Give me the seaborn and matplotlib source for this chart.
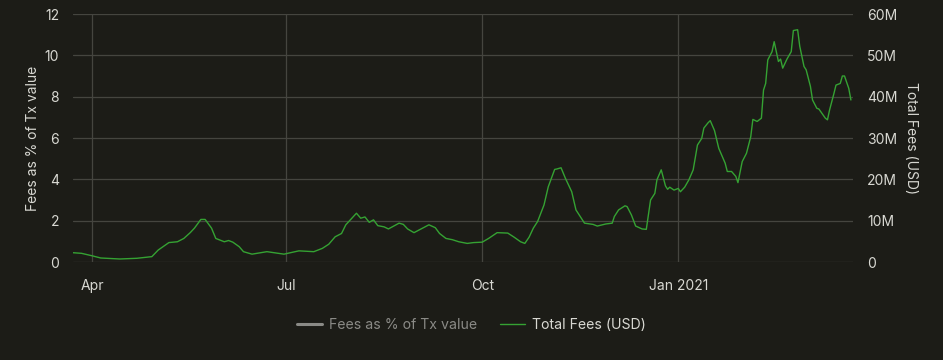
import pandas as pd
import numpy as np
import matplotlib
matplotlib.use("Agg")
import matplotlib.pyplot as plt
from matplotlib.lines import Line2D
from matplotlib.ticker import FuncFormatter
import seaborn as sns

# Total fees (millions USD)
dates = [
    "2020-03-23", "2020-03-27", "2020-04-01", "2020-04-05", "2020-04-14", "2020-04-22",
    "2020-04-29", "2020-05-02", "2020-05-07", "2020-05-11", "2020-05-14", "2020-05-17",
    "2020-05-19", "2020-05-22", "2020-05-24", "2020-05-27", "2020-05-29", "2020-06-02",
    "2020-06-04", "2020-06-06", "2020-06-09", "2020-06-11", "2020-06-15", "2020-06-22",
    "2020-06-30", "2020-07-07", "2020-07-14", "2020-07-18", "2020-07-21", "2020-07-24",
    "2020-07-27", "2020-07-29", "2020-08-01", "2020-08-03", "2020-08-05", "2020-08-07",
    "2020-08-09", "2020-08-11", "2020-08-13", "2020-08-16", "2020-08-18", "2020-08-23",
    "2020-08-25", "2020-08-27", "2020-08-30", "2020-09-03", "2020-09-06", "2020-09-09",
    "2020-09-11", "2020-09-14", "2020-09-17", "2020-09-20", "2020-09-24", "2020-09-27",
    "2020-10-01", "2020-10-04", "2020-10-08", "2020-10-13", "2020-10-16", "2020-10-19",
    "2020-10-21", "2020-10-23", "2020-10-25", "2020-10-27", "2020-10-30", "2020-11-01",
    "2020-11-04", "2020-11-05", "2020-11-07", "2020-11-09", "2020-11-12", "2020-11-14",
    "2020-11-18", "2020-11-22", "2020-11-24", "2020-11-28", "2020-12-01", "2020-12-02",
    "2020-12-04", "2020-12-07", "2020-12-08", "2020-12-10", "2020-12-12", "2020-12-15",
    "2020-12-17", "2020-12-19", "2020-12-21", "2020-12-22", "2020-12-24", "2020-12-26",
    "2020-12-27", "2020-12-28", "2020-12-30", "2021-01-01", "2021-01-02", "2021-01-04",
    "2021-01-06", "2021-01-08", "2021-01-10", "2021-01-12", "2021-01-13", "2021-01-15",
    "2021-01-16", "2021-01-18", "2021-01-20", "2021-01-23", "2021-01-24", "2021-01-26",
    "2021-01-28", "2021-01-29", "2021-01-31", "2021-02-02", "2021-02-04", "2021-02-05",
    "2021-02-07", "2021-02-09", "2021-02-10", "2021-02-11", "2021-02-12", "2021-02-14",
    "2021-02-15", "2021-02-17", "2021-02-18", "2021-02-19", "2021-02-21", "2021-02-23",
    "2021-02-24", "2021-02-26", "2021-02-27", "2021-03-01", "2021-03-02", "2021-03-04",
    "2021-03-05", "2021-03-07", "2021-03-08", "2021-03-11", "2021-03-12", "2021-03-13",
    "2021-03-15", "2021-03-16", "2021-03-18", "2021-03-19", "2021-03-20", "2021-03-22",
    "2021-03-23",
]
total_fees_m = [
    2.25, 2.1, 1.5, 0.97, 0.73, 0.9,
    1.3, 2.9, 4.7, 4.9, 5.7, 7.1,
    8.2, 10.3, 10.3, 8.2, 5.7, 4.9,
    5.2, 4.8, 3.7, 2.5, 1.9, 2.5,
    1.9, 2.7, 2.5, 3.3, 4.3, 6.1,
    6.9, 9.0, 10.7, 11.8, 10.6, 10.9,
    9.6, 10.2, 8.8, 8.5, 8.0, 9.4,
    9.1, 8.0, 7.1, 8.2, 9.0, 8.3,
    6.9, 5.7, 5.4, 4.9, 4.5, 4.7,
    4.8, 5.7, 7.1, 7.0, 6.0, 4.9,
    4.5, 6.0, 8.2, 9.8, 13.8, 18.2,
    22.4, 22.5, 22.8, 20.3, 17.0, 12.6,
    9.4, 9.1, 8.7, 9.2, 9.4, 11.0,
    12.6, 13.6, 13.4, 11.4, 8.7, 8.0,
    7.9, 15.0, 16.6, 19.9, 22.3, 18.4,
    17.6, 18.1, 17.4, 17.8, 17.0, 18.1,
    19.9, 22.3, 28.3, 29.9, 32.4, 33.7,
    34.2, 31.8, 27.5, 23.9, 21.9, 21.9,
    20.7, 19.2, 24.3, 26.3, 30.3, 34.5,
    34.0, 34.8, 41.6, 43.2, 48.9, 50.9,
    53.3, 48.5, 49.1, 46.9, 49.1, 50.9,
    56.0, 56.2, 52.2, 47.3, 46.5, 42.5,
    39.2, 37.2, 37.0, 34.8, 34.4, 36.8,
    40.7, 42.8, 43.2, 45.0, 45.0, 42.0,
    39.2,
]

left_ticks = [0, 2, 4, 6, 8, 10, 12]
right_ticks = [0, 10e6, 20e6, 30e6, 40e6, 50e6, 60e6]
month_ticks = ["2020-04-01", "2020-07-01", "2020-10-01", "2021-01-01"]
month_labels = ["Apr", "Jul", "Oct", "Jan 2021"]

df = pd.DataFrame({"date": pd.to_datetime(dates), "fees": np.array(total_fees_m) * 1e6})

bg = "#1c1c17"
grid_c = "#45453f"
text_c = "#d8d8d2"
green = "#35a233"

sns.set_theme(style="dark")
plt.rcParams["font.family"] = ["Inter", "DejaVu Sans"]

fig = plt.figure(figsize=(9.43, 3.6), dpi=100, facecolor=bg)
ax = fig.add_axes([0.0774, 0.2722, 0.8272, 0.6889])
ax.set_facecolor(bg)
ax2 = ax.twinx()

sns.lineplot(data=df, x="date", y="fees", ax=ax2, color=green, linewidth=1.0)

xmin, xmax = pd.Timestamp("2020-03-23"), pd.Timestamp("2021-03-24")
ax.set_ylim(0, 12)
ax2.set_ylim(0, 60e6)
ax.set_xlim(xmin, xmax)
ax2.set_xlim(xmin, xmax)

ax.set_yticks(left_ticks)
ax.set_yticklabels([str(t) for t in left_ticks])
ax2.set_yticks(right_ticks)
ax2.yaxis.set_major_formatter(FuncFormatter(lambda v, p: "0" if v == 0 else f"{int(v / 1e6)}M"))
ax.set_xticks(pd.to_datetime(month_ticks))
ax.set_xticklabels(month_labels)

ax.grid(True, color=grid_c, linewidth=0.9)
ax2.grid(False)
for a in (ax, ax2):
    for s in a.spines.values():
        s.set_visible(False)
    a.tick_params(colors=text_c, labelsize=10, length=0)
ax.tick_params(axis="x", pad=12)
ax.tick_params(axis="y", pad=10)
ax2.tick_params(axis="y", pad=10)

ax.set_xlabel("")
ax.set_ylabel("Fees as % of Tx value", color=text_c, fontsize=10, labelpad=3)
ax2.set_xlabel("")
ax2.set_ylabel("Total Fees (USD)", color=text_c, fontsize=10, rotation=270, labelpad=15)

handles = [
    Line2D([], [], color="#8a8a86", linewidth=2.2),
    Line2D([], [], color=green, linewidth=1.0),
]
leg = fig.legend(handles, ["Fees as % of Tx value", "Total Fees (USD)"],
                 loc="center", bbox_to_anchor=(0.5, 0.097), ncol=2, frameon=False,
                 fontsize=10.2, handlelength=1.75, columnspacing=1.6, handletextpad=0.5)
leg.get_texts()[0].set_color("#8a8a86")
leg.get_texts()[1].set_color(text_c)

fig.savefig("out.png", dpi=100, facecolor=bg)
